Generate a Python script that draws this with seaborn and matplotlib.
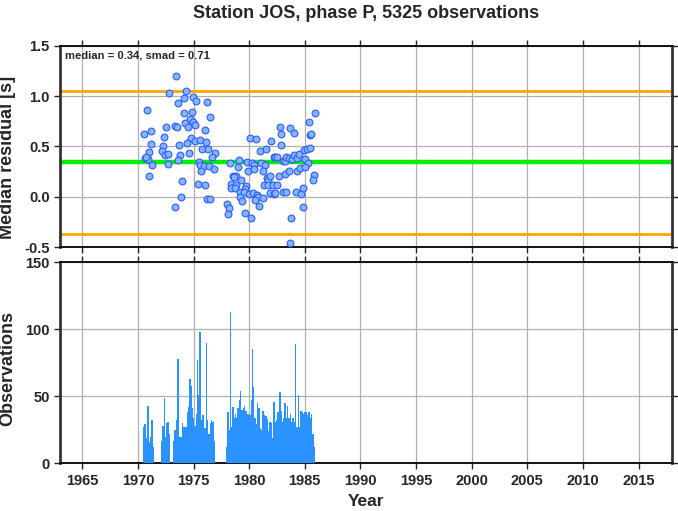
import matplotlib
matplotlib.use("Agg")
import matplotlib.pyplot as plt
import seaborn as sns
import pandas as pd

# ---- data ----
title = "Station JOS, phase P, 5325 observations"
median_val = 0.34
smad_val = 0.71

res_year = [1973.44, 1972.84, 1974.36, 1974.96, 1975.2, 1973.6, 1974.18, 1976.2, 1970.84, 1974.1,
            1974.87, 1976.5, 1974.66, 1974.27, 1974.96, 1975.1, 1974.5, 1973.3, 1973.5, 1972.57,
            1976.04, 1971.17, 1970.54, 1972.33, 1974.78, 1974.42, 1975.17, 1975.6, 1976.1, 1971.2,
            1973.7, 1972.24, 1975.8, 1976.3, 1971.0, 1972.2, 1972.4, 1972.7, 1973.8, 1974.6,
            1976.9, 1976.7, 1970.6, 1970.9, 1970.75, 1973.6, 1971.3, 1972.75, 1975.5, 1975.6,
            1975.9, 1976.4, 1976.8, 1975.7, 1971.0, 1974.0, 1975.4, 1976.0, 1973.9, 1973.3,
            1976.2, 1976.5,
            1978.28, 1979.08, 1979.83, 1980.28, 1980.4, 1978.96, 1979.9, 1980.46, 1980.07, 1980.64,
            1978.55, 1978.85, 1978.6, 1979.3, 1978.4, 1978.8, 1978.37, 1978.73, 1979.7, 1979.6,
            1979.2, 1979.5, 1979.15, 1979.4, 1978.0, 1978.2, 1978.1, 1979.6, 1980.2, 1980.0,
            1980.3, 1980.7, 1980.8, 1980.5, 1981.2, 1980.9, 1981.0, 1981.5, 1982.0, 1982.9,
            1982.8, 1982.85, 1983.7, 1984.0, 1981.1, 1981.4, 1981.2, 1981.6, 1981.7, 1981.9,
            1981.3, 1981.7, 1982.1, 1982.5, 1981.9, 1982.2, 1982.3, 1982.2, 1982.3, 1982.5,
            1983.0, 1983.2, 1983.35, 1983.56, 1983.86, 1984.07, 1984.3, 1984.5, 1984.9, 1985.2,
            1985.5, 1985.0, 1985.3, 1982.7, 1983.2, 1983.6, 1984.3, 1984.6, 1985.0, 1983.0,
            1983.3, 1984.2, 1984.7, 1984.85, 1984.8, 1983.8, 1983.7, 1985.4, 1985.9, 1985.5,
            1985.6, 1985.8, 1985.7]
res_val = [1.20, 1.03, 1.05, 0.99, 0.95, 0.93, 0.98, 0.94, 0.86, 0.83,
           0.84, 0.79, 0.77, 0.73, 0.74, 0.71, 0.69, 0.70, 0.69, 0.69,
           0.66, 0.65, 0.62, 0.59, 0.58, 0.53, 0.55, 0.56, 0.54, 0.52,
           0.51, 0.50, 0.47, 0.47, 0.44, 0.45, 0.41, 0.42, 0.41, 0.43,
           0.43, 0.39, 0.38, 0.37, 0.39, 0.36, 0.31, 0.32, 0.34, 0.31,
           0.30, 0.30, 0.27, 0.26, 0.21, 0.16, 0.13, 0.12, 0.00, -0.10,
           -0.02, -0.02,
           0.33, 0.36, 0.34, 0.33, 0.31, 0.29, 0.26, 0.27, 0.58, 0.57,
           0.21, 0.21, 0.20, 0.17, 0.13, 0.12, 0.09, 0.09, 0.11, 0.08,
           0.05, 0.05, 0.00, -0.04, -0.07, -0.11, -0.17, -0.16, -0.21, 0.03,
           0.04, 0.02, 0.00, -0.03, -0.01, -0.09, 0.45, 0.47, 0.55, 0.51,
           0.69, 0.62, 0.68, 0.63, 0.33, 0.31, 0.26, 0.19, 0.17, 0.21,
           0.12, 0.12, 0.12, 0.12, 0.04, 0.03, 0.04, 0.39, 0.39, 0.39,
           0.35, 0.35, 0.39, 0.38, 0.37, 0.41, 0.38, 0.42, 0.46, 0.47,
           0.48, 0.37, 0.33, 0.21, 0.23, 0.26, 0.26, 0.28, 0.29, 0.05,
           0.05, 0.05, 0.03, 0.09, -0.10, -0.21, -0.46, 0.74, 0.83, 0.61,
           0.62, 0.22, 0.17]

obs_year = [1970.54, 1970.63, 1970.72, 1970.90, 1971.02, 1971.14, 1971.25, 1971.34,
            1972.15, 1972.27, 1972.39, 1972.51, 1972.60, 1972.72, 1972.81,
            1973.23, 1973.35, 1973.47, 1973.59, 1973.67, 1973.76, 1973.88, 1974.00, 1974.12, 1974.24,
            1974.36, 1974.48, 1974.60, 1974.69, 1974.78, 1974.90, 1975.02, 1975.14, 1975.26, 1975.38,
            1975.50, 1975.59, 1975.68, 1975.80, 1975.92, 1976.04, 1976.18, 1976.27, 1976.39, 1976.51,
            1976.63, 1976.75, 1976.90,
            1978.01, 1978.10, 1978.19, 1978.34, 1978.43, 1978.55, 1978.66, 1978.75, 1978.87, 1978.99,
            1979.14, 1979.23, 1979.35, 1979.47, 1979.59, 1979.71, 1979.83, 1979.95, 1980.07, 1980.22,
            1980.31, 1980.40, 1980.52, 1980.64, 1980.76, 1980.88, 1981.00, 1981.14, 1981.26, 1981.38,
            1981.50, 1981.62, 1981.74, 1981.89, 1982.01, 1982.13, 1982.22, 1982.34, 1982.46, 1982.58,
            1982.70, 1982.79, 1982.88, 1983.03, 1983.15, 1983.24, 1983.36, 1983.47, 1983.59, 1983.71,
            1983.83, 1983.95, 1984.07, 1984.16, 1984.28, 1984.43, 1984.52, 1984.64, 1984.76, 1984.88,
            1985.00, 1985.12, 1985.24, 1985.36, 1985.48, 1985.60, 1985.72, 1985.84]
obs_count = [27, 29, 19, 43, 16, 20, 32, 12,
             17, 28, 49, 20, 30, 31, 22,
             17, 25, 32, 78, 47, 20, 20, 30, 27, 27,
             27, 38, 42, 63, 58, 41, 34, 28, 37, 77,
             51, 98, 32, 36, 36, 26, 90, 32, 22, 30,
             32, 31, 17,
             12, 38, 25, 113, 27, 42, 34, 37, 34, 41,
             47, 54, 40, 41, 43, 39, 37, 37, 36, 47,
             85, 57, 34, 29, 45, 41, 26, 25, 39, 36,
             35, 33, 24, 31, 30, 19, 46, 31, 32, 38,
             34, 53, 39, 31, 34, 45, 34, 43, 34, 37,
             31, 34, 31, 89, 27, 51, 27, 39, 38, 37,
             38, 38, 36, 38, 34, 37, 22, 12]

x_ticks = [1965, 1970, 1975, 1980, 1985, 1990, 1995, 2000, 2005, 2010, 2015]
res_ticks = [-0.5, 0.0, 0.5, 1.0, 1.5]
obs_ticks = [0, 50, 100, 150]

# ---- style ----
sns.set_style("white")
plt.rcParams['font.family'] = ['Liberation Sans', 'DejaVu Sans']

fig = plt.figure(figsize=(6.78, 5.11), dpi=100)
ax1 = fig.add_axes([60/678, 1-247/511, 612/678, 201.3/511])
ax2 = fig.add_axes([60/678, 1-463.3/511, 612/678, 201/511])

res_df = pd.DataFrame({"year": res_year, "res": res_val})

for ax in (ax1, ax2):
    ax.set_xlim(1963, 2018)
    ax.set_xticks(x_ticks)
    ax.grid(True, color='#b0b0b0', linewidth=0.9)
    ax.set_axisbelow(True)
    for side in ('top', 'bottom'):
        ax.spines[side].set_color('black')
        ax.spines[side].set_linewidth(1.3)
    for side in ('left', 'right'):
        ax.spines[side].set_color('#333333')
        ax.spines[side].set_linewidth(2.0)
    ax.tick_params(axis='both', direction='out', length=4, width=1,
                   labelsize=10.5, right=True, left=True, bottom=True)

# top panel
ax1.axhline(median_val + smad_val, color='#FFA500', linewidth=2.0, zorder=2)
ax1.axhline(median_val - smad_val, color='#FFA500', linewidth=2.0, zorder=2)
ax1.axhline(median_val, color='#00EE00', linewidth=3.2, zorder=2)
sns.scatterplot(data=res_df, x="year", y="res", ax=ax1, s=24, color='#82b4ff',
                edgecolor='#2f5cff', linewidth=0.8, zorder=3)
ax1.set_ylim(-0.5, 1.5)
ax1.set_yticks(res_ticks)
ax1.set_yticklabels([f"{v:.1f}" for v in res_ticks], fontweight='bold')
ax1.set_xticklabels([])
ax1.set_xlabel("")
ax1.set_ylabel("Median residual [s]", fontsize=13, fontweight='bold')
ax1.yaxis.set_label_coords(-0.072, 0.447)
ax1.tick_params(axis='x', top=True)
ax1.text(0.008, 0.975, f"median = {median_val:.2f}, smad = {smad_val:.2f}",
         transform=ax1.transAxes, ha='left', va='top', fontsize=8.1, fontweight='bold')
ax1.set_title(title, fontsize=13, fontweight='bold', pad=20)

# bottom panel
ax2.bar(obs_year, obs_count, width=0.13, color='#2a93ff', linewidth=0, zorder=3)
ax2.set_ylim(0, 150)
ax2.set_yticks(obs_ticks)
ax2.set_yticklabels([str(v) for v in obs_ticks], fontweight='bold')
ax2.set_xticklabels([str(v) for v in x_ticks], fontweight='bold')
ax2.set_xlabel("Year", fontsize=12.5, fontweight='bold', va='top')
ax2.xaxis.set_label_coords(0.5, -0.152)
ax2.set_ylabel("Observations", fontsize=13, fontweight='bold')
ax2.yaxis.set_label_coords(-0.072, 0.472)
ax2.tick_params(axis='x', top=True)

fig.savefig("out.png", dpi=100)
